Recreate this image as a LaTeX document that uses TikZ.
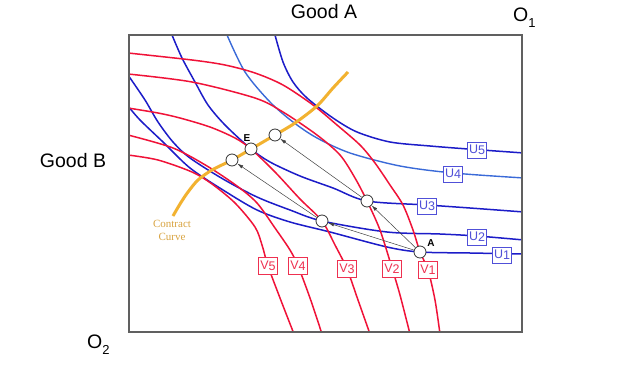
\documentclass[tikz,border=0pt]{standalone}
\usepackage{fontspec}
\setmainfont{Liberation Sans}
\newfontfamily\ccfont{Liberation Serif}
\usetikzlibrary{arrows.meta}
\definecolor{ublue}{HTML}{1C1CC8}
\definecolor{ublue4}{HTML}{3A6AD8}
\definecolor{vred}{HTML}{F01238}
\definecolor{ccorange}{HTML}{F2B230}
\definecolor{cctext}{HTML}{D9A441}
\definecolor{framegray}{HTML}{606060}
\definecolor{boxblue}{HTML}{5050D8}
\definecolor{boxred}{HTML}{EE3050}
\newcommand\ulab[2]{#1\raisebox{-1.2pt}{#2}}
\begin{document}
\begin{tikzpicture}[x=1pt,y=-1pt,
  ucurve/.style={ublue,line width=1.5pt},
  ucurvelight/.style={ublue4,line width=1.4pt},
  vcurve/.style={vred,line width=1.5pt},
  contract/.style={ccorange,line width=3pt},
  ubox/.style={draw=boxblue,fill=white,text=boxblue,line width=0.8pt,minimum width=19pt,minimum height=16pt,inner sep=0pt,font=\fontsize{12.5}{12.5}\selectfont},
  vbox/.style={draw=boxred,fill=white,text=boxred,line width=0.8pt,minimum width=19pt,minimum height=17pt,inner sep=0pt,font=\fontsize{12.5}{12.5}\selectfont},
  pt/.style={circle,draw=black!80,fill=white,line width=0.8pt,minimum size=12pt,inner sep=0pt},
  arr/.style={black!75,line width=0.5pt,-{Latex[length=6pt,width=3.5pt]}},
  axtext/.style={font=\fontsize{19.5}{19.5}\selectfont,inner sep=0pt},
  ptlab/.style={font=\bfseries\fontsize{10}{10}\selectfont,inner sep=0pt}
]
\useasboundingbox (0,0) rectangle (634,364);
\fill[white] (0,0) rectangle (634,364);

\begin{scope}
\clip (129,35) rectangle (522,332);
% blue curves
\draw[ucurve] plot[smooth] coordinates {(275,35) (283,62) (293,82) (307,98) (333,118) (357,132) (390,142) (430,146) (468,149) (524,153)};
\draw[ucurvelight] plot[smooth] coordinates {(227,35) (245,72) (270,102) (293,122) (317,138) (350,153) (400,166) (453,173) (524,178)};
\draw[ucurve] plot[smooth] coordinates {(172,35) (182,58) (195,82) (208,105) (225,125) (251,149) (270,162) (300,176) (333,188) (367,201) (427,205) (470,208) (524,212)};
\draw[ucurve] plot[smooth] coordinates {(128,75) (145,100) (158,122) (173,142) (190,158) (223,179) (257,197) (290,210) (322,221) (387,232) (440,234) (477,236) (524,240)};
\draw[ucurve] plot[smooth] coordinates {(128,106) (140,120) (163,142) (190,168) (223,190) (257,210) (290,222) (330,232) (387,247) (420,252) (470,253) (524,254)};
% red curves
\draw[vcurve] plot[smooth] coordinates {(128,53) (192,60) (225,65) (255,73) (283,85) (313,105) (337,125) (360,145) (375,163) (390,185) (403,205) (413,230) (420,252) (428,270) (435,300) (440,334)};
\draw[vcurve] plot[smooth] coordinates {(128,74) (192,82) (255,98) (283,112) (317,135) (340,155) (355,178) (367,201) (380,230) (392,268) (400,295) (410,334)};
\draw[vcurve] plot[smooth] coordinates {(128,108) (158,113) (180,118) (210,127) (235,138) (251,149) (275,172) (300,199) (322,221) (335,245) (347,269) (358,300) (370,334)};
\draw[vcurve] plot[smooth] coordinates {(128,135) (173,148) (207,166) (237,186) (257,203) (275,228) (290,250) (298,266) (310,298) (322,334)};
\draw[vcurve] plot[smooth] coordinates {(128,155) (158,160) (192,172) (212,184) (235,203) (255,227) (262,245) (268,266) (280,298) (294,334)};
\end{scope}

% contract curve
\draw[contract] plot[smooth] coordinates {(173,216) (180,204) (188,192) (198,180) (212,170) (232,160) (251,149) (275,135) (295,123) (317,106) (333,88) (348,72)};
\node[font=\ccfont\fontsize{11}{13}\selectfont,text=cctext,align=center,inner sep=0pt] (cclab) at (172,230) {Contract\\Curve};

% frame
\draw[framegray,line width=1.2pt] (129,35) rectangle (522,332);

% points
\node[pt] (A) at (420,252) {};
\node[pt] (P1) at (322,221) {};
\node[pt] (P2) at (367,201) {};
\node[pt] (C1) at (232,160) {};
\node[pt] (E) at (251,149) {};
\node[pt] (C2) at (275,135) {};
\node[ptlab] (Elab) at (247,138) {E};
\node[ptlab] (Alab) at (431,243) {A};

% arrows
\draw[arr] (A) -- (P1);
\draw[arr] (A) -- (P2);
\draw[arr] (P1) -- (C1);
\draw[arr] (P2) -- (C2);

% labels
\node[ubox] (u5) at (477,150) {\ulab{U}{5}};
\node[ubox] (u4) at (453,174) {\ulab{U}{4}};
\node[ubox] (u3) at (427,206) {\ulab{U}{3}};
\node[ubox] (u2) at (477,237) {\ulab{U}{2}};
\node[ubox] (u1) at (502,255) {\ulab{U}{1}};
\node[vbox] (v5) at (268,266) {\ulab{V}{5}};
\node[vbox] (v4) at (298,266) {\ulab{V}{4}};
\node[vbox] (v3) at (347,269) {\ulab{V}{3}};
\node[vbox] (v2) at (392,269) {\ulab{V}{2}};
\node[vbox] (v1) at (428,270) {\ulab{V}{1}};

% axis texts
\node[axtext] (goodA) at (324,12) {Good A};
\node[axtext] (goodB) at (73,161) {Good B};
\node[axtext,anchor=west] (o1) at (513,18) {O\raisebox{-6pt}{\fontsize{13}{13}\selectfont 1}};
\node[axtext,anchor=west] (o2) at (87,345) {O\raisebox{-6pt}{\fontsize{13}{13}\selectfont 2}};
\end{tikzpicture}
\end{document}
